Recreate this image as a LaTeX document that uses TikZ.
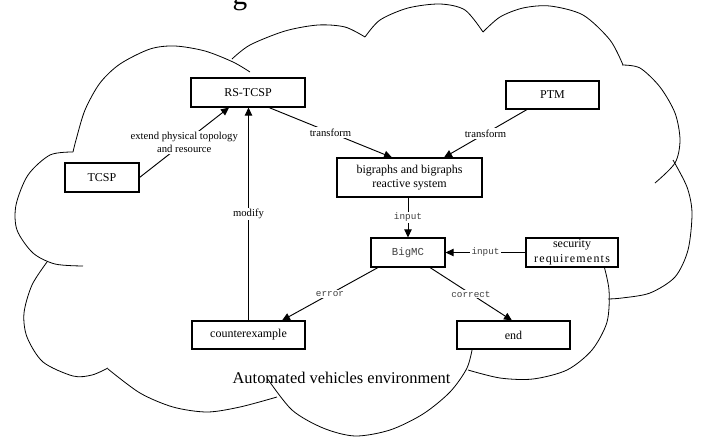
\documentclass[tikz,border=0pt]{standalone}
\usepackage{fontspec}
\setmainfont{Liberation Serif}
\setmonofont{Liberation Mono}
\usetikzlibrary{arrows.meta,calc}
\begin{document}
\begin{tikzpicture}[x=0.75pt,y=-0.75pt,
  box/.style={draw,line width=0.8pt,fill=white,inner sep=0pt,align=center,font=\fontsize{9}{11}\selectfont},
  link/.style={line width=0.7pt,-{Triangle[length=6pt,width=5.5pt]}},
  lbl/.style={fill=white,inner sep=1pt,align=center,font=\fontsize{8}{9.5}\selectfont},
  mlbl/.style={fill=white,inner sep=1pt,text=black!75,font=\ttfamily\fontsize{7}{8}\selectfont},
  cloudline/.style={line width=0.6pt}]
\useasboundingbox (0,0) rectangle (701,437);

% cut-off caption letter at the top
\node[anchor=base,font=\fontsize{22}{24}\selectfont,inner sep=0pt] (topg) at (240,4) {g};

% cloud
\draw[cloudline] plot[smooth] coordinates {(73,152) (76,140) (85,110) (100,83) (120,64) (150,49) (175,46) (205,51) (233,62) (250,72)};
\draw[cloudline] plot[smooth] coordinates {(232,59) (250,45) (285,31) (318,25) (345,27) (365,37)};
\draw[cloudline] plot[smooth] coordinates {(365,37) (380,20) (408,8) (440,4) (465,10) (483,32)};
\draw[cloudline] plot[smooth] coordinates {(483,32) (500,17) (523,8) (550,6) (583,15) (610,40) (623,65)};
\draw[cloudline] plot[smooth] coordinates {(622,65) (640,68) (660,87) (675,113) (680,140) (675,163) (655,183)};
\draw[cloudline] plot[smooth] coordinates {(673,160) (687,187) (692,213) (688,250) (675,277) (650,293) (622,298) (608,299)};
\draw[cloudline] plot[smooth] coordinates {(603,262) (609,290) (607,322) (592,350) (567,370) (533,379) (500,378) (468,370)};
\draw[cloudline] plot[smooth] coordinates {(473,345) (467,368) (450,392) (423,414) (390,430) (355,436) (323,428) (292,410) (267,378)};
\draw[cloudline] plot[smooth] coordinates {(277,397) (240,407) (207,412) (173,407) (140,393) (108,369)};
\draw[cloudline] plot[smooth] coordinates {(47,262) (32,285) (24,313) (27,337) (43,362) (73,376) (92,375) (108,368)};
\draw[cloudline] plot[smooth] coordinates {(73,152) (50,155) (28,175) (16,205) (17,230) (33,253) (55,264) (83,266)};

% boxes
\node[box,minimum width=85.5pt,minimum height=21.75pt] (rstcsp) at (248,92.5) {RS-TCSP};
\node[box,minimum width=55.5pt,minimum height=21.75pt] (tcsp) at (102,177.5) {TCSP};
\node[box,minimum width=69.75pt,minimum height=21pt] (ptm) at (552.5,95) {PTM};
\node[box,minimum width=108.75pt,minimum height=29.25pt] (bigraphs) at (409.5,177.5) {bigraphs and bigraphs\\reactive system};
\node[box,minimum width=55.5pt,minimum height=21.75pt,text=black!75,font=\ttfamily\fontsize{8}{9}\selectfont] (bigmc) at (408,252.5) {BigMC};
\node[box,minimum width=69pt,minimum height=21.75pt,font=\fontsize{9}{11.5}\selectfont] (secreq) at (572,252.5) {security\\{\addfontfeature{LetterSpace=10}requirements}};
\node[box,minimum width=84.75pt,minimum height=21pt] (counter) at (248.5,335) {counterexample};
\node[box,minimum width=84.75pt,minimum height=21pt] (endn) at (513.5,335) {end};

\node[anchor=base,inner sep=0pt,font=\fontsize{12.3}{14}\selectfont] (env) at (341.5,383) {Automated vehicles environment};

% connectors
\draw[link] (tcsp.east) -- node[lbl] {extend physical topology\\and resource} ($(rstcsp.south)+(-19,0)$);
\draw[link] ($(rstcsp.south)+(21,0)$) -- node[lbl] {transform} ($(bigraphs.north)+(-17.5,0)$);
\draw[link] ($(ptm.south)+(-25.5,0)$) -- node[lbl] {transform} ($(bigraphs.north)+(34.5,0)$);
\draw[link] (bigraphs.south -| bigmc.north) -- node[mlbl] {input} (bigmc.north);
\draw[link] (secreq.west) -- node[mlbl] {input} (bigmc.east);
\draw[link] ($(bigmc.south)+(-30,0)$) -- node[mlbl] {error} ($(counter.north)+(33.5,0)$);
\draw[link] ($(bigmc.south)+(22,0)$) -- node[mlbl] {correct} ($(endn.north)+(-1.5,0)$);
\draw[link] (counter.north) -- node[lbl] {modify} (counter.north |- rstcsp.south);
\end{tikzpicture}
\end{document}
